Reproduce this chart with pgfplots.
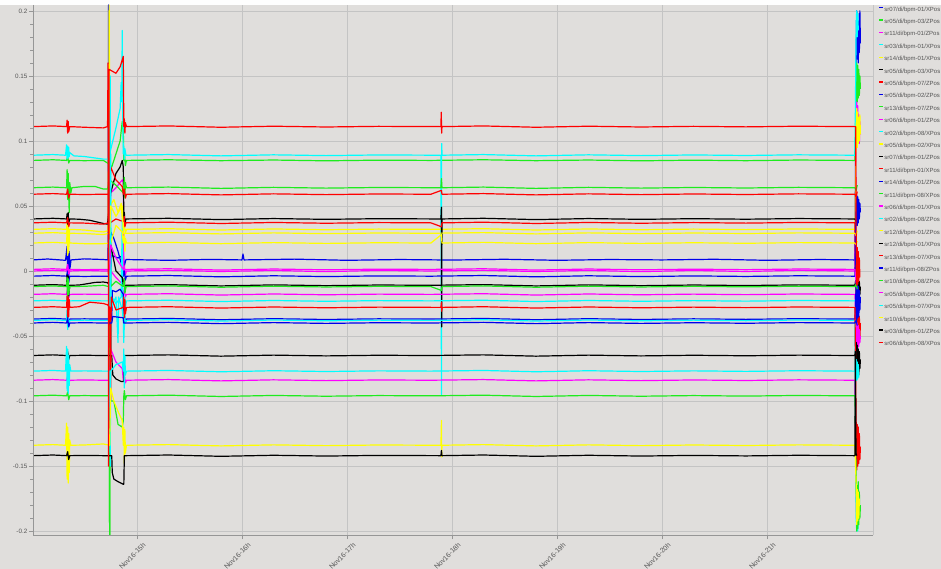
\documentclass[border=0pt]{standalone}
\usepackage{fontspec}
\setmainfont{Liberation Sans}
\usepackage{pgfplots}
\pgfplotsset{compat=1.18}
\definecolor{bg}{RGB}{224,222,220}
\definecolor{gridc}{RGB}{196,196,196}
\definecolor{axc}{RGB}{150,150,150}
\definecolor{labc}{RGB}{85,85,85}
\definecolor{bpmblue}{RGB}{0,0,235}
\definecolor{bpmgreen}{RGB}{30,235,30}
\definecolor{bpmmagenta}{RGB}{255,0,255}
\definecolor{bpmcyan}{RGB}{0,255,255}
\definecolor{bpmyellow}{RGB}{255,255,0}
\definecolor{bpmblack}{RGB}{0,0,0}
\definecolor{bpmred}{RGB}{255,0,0}
\pgfplotscreateplotcyclelist{bpm}{{color=bpmblue},{color=bpmgreen},{color=bpmmagenta},{color=bpmcyan},{color=bpmyellow},{color=bpmblack},{color=bpmred}}
\begin{document}
\begin{tikzpicture}
\fill[bg] (-33bp,-34bp) rectangle (908bp,535bp);
\fill[white!97!bg] (-33bp,530bp) rectangle (908bp,535bp);
\useasboundingbox (-33bp,-34bp) rectangle (908bp,535bp);
\begin{axis}[name=ax, at={(0,0)}, anchor=south west,
  scale only axis, width=840bp, height=530bp,
  xmin=14.01, xmax=22.01, ymin=-0.203, ymax=0.2045,
  enlargelimits=false,
  axis line style={draw=none},
  xtick={15,16,17,18,19,20,21},
  xticklabels={Nov16-15h,Nov16-16h,Nov16-17h,Nov16-18h,Nov16-19h,Nov16-20h,Nov16-21h},
  ytick={-0.2,-0.15,-0.1,-0.05,0,0.05,0.1,0.15,0.2},
  yticklabels={-0.2,-0.15,-0.1,-0.05,0,0.05,0.1,0.15,0.2},
  minor y tick num=4,
  grid=major, major grid style={draw=gridc, line width=0.6bp},
  tick align=outside, tick pos=left,
  major tick length=4bp, minor tick length=2.5bp,
  tick style={draw=axc, line width=0.6bp},
  /pgf/number format/assume math mode=true,
  yticklabel style={font=\fontsize{6.3}{7}\selectfont, text=labc, inner sep=1.5bp},
  xticklabel style={font=\fontsize{7}{8}\selectfont, text=labc, rotate=45, anchor=north east, inner sep=1bp, xshift=3bp, yshift=-5bp},
  cycle list name=bpm,
  every axis plot/.append style={line width=1.2bp, line join=round, mark=none},
  legend cell align=left,
  legend image code/.code={\draw[#1, line width=1.1bp] (0bp,2bp) -- (4bp,2bp);},
  legend style={at={(axis description cs:1.007,0.997)}, anchor=north west, draw=none, fill=none,
    inner sep=0pt, outer sep=0pt, row sep=6.4bp, font=\fontsize{6}{6.5}\selectfont, text=labc,
    nodes={inner sep=0.5bp, text height=4bp, text depth=1bp}},
]
% S1 blue
\addplot coordinates {(14.01,0.0085)(14.15,0.0092)(14.32,0.0082)(14.335,0.019)(14.34,-0.006)(14.345,0.021)(14.35,-0.009)(14.355,0.015)(14.362,0.002)(14.372,0.0085)(14.5,0.0093)(14.68,0.0088)(14.725,0.0085)(14.73,0.2045)(14.74,-0.03)(14.755,0.012)(14.82,0.01)(14.87,0.012)(14.88,0.004)(14.895,0.0088)(15.3,0.0082)(15.7,0.0089)(16.0,0.0085)(16.01,0.013)(16.02,0.0085)(16.5,0.0091)(17.0,0.0082)(17.5,0.0088)(18.0,0.0084)(18.5,0.009)(19.0,0.0082)(19.5,0.0088)(20.0,0.0085)(20.5,0.009)(21.0,0.0082)(21.5,0.0088)(21.838,0.0085)(21.85,0.17)(21.855,0.2)(21.86,0.163)(21.865,0.198)(21.87,0.16)(21.875,0.192)(21.88,0.168)(21.885,0.2)(21.89,0.175)};
% S2 green
\addplot coordinates {(14.01,0.085)(14.2,0.0855)(14.33,0.085)(14.34,0.088)(14.35,0.083)(14.36,0.085)(14.5,0.0848)(14.68,0.085)(14.72,0.083)(14.76,0.08)(14.8,0.09)(14.84,0.1)(14.86,0.115)(14.87,0.108)(14.875,0.085)(14.88,0.091)(14.89,0.081)(14.9,0.085)(15.3,0.0855)(15.8,0.0848)(16.3,0.0853)(16.8,0.0847)(17.3,0.0852)(17.8,0.085)(18.3,0.0855)(18.8,0.0848)(19.3,0.0853)(19.8,0.0847)(20.3,0.0852)(20.8,0.0848)(21.3,0.0853)(21.838,0.085)(21.85,0.14)(21.855,0.16)(21.86,0.13)(21.865,0.158)(21.87,0.133)(21.875,0.155)(21.88,0.135)(21.885,0.15)(21.89,0.14)};
% S3 magenta
\addplot coordinates {(14.01,0.0)(14.2,0.0005)(14.33,0.0)(14.34,0.004)(14.35,-0.003)(14.36,0.0)(14.5,0.0004)(14.68,0.0)(14.74,0.0)(14.75,0.06)(14.8,0.064)(14.86,0.07)(14.87,0.068)(14.875,0.0)(14.88,0.004)(14.89,-0.003)(14.9,0.0)(15.3,0.0005)(15.8,-0.0004)(16.3,0.0004)(16.8,-0.0005)(17.3,0.0004)(17.8,0.0)(18.3,0.0005)(18.8,-0.0004)(19.3,0.0004)(19.8,-0.0005)(20.3,0.0004)(20.8,-0.0004)(21.3,0.0005)(21.838,0.0)(21.85,0.11)(21.855,0.13)(21.86,0.1)(21.865,0.127)(21.87,0.103)(21.875,0.12)(21.88,0.098)(21.885,0.115)(21.89,0.105)};
% S4 cyan
\addplot coordinates {(14.01,0.089)(14.2,0.0895)(14.32,0.089)(14.33,0.097)(14.335,0.086)(14.34,0.096)(14.345,0.087)(14.35,0.095)(14.355,0.088)(14.36,0.091)(14.4,0.0885)(14.5,0.088)(14.68,0.086)(14.72,0.086)(14.74,0.09)(14.8,0.11)(14.84,0.125)(14.85,0.145)(14.855,0.13)(14.86,0.185)(14.865,0.12)(14.87,0.09)(14.875,0.096)(14.88,0.086)(14.885,0.094)(14.895,0.089)(15.3,0.0895)(15.8,0.0885)(16.3,0.0893)(16.8,0.0887)(17.3,0.0892)(17.89,0.089)(17.895,0.089)(17.9,-0.095)(17.902,0.098)(17.906,0.089)(18.3,0.0895)(18.8,0.0885)(19.3,0.0893)(19.8,0.0887)(20.3,0.0892)(20.8,0.0888)(21.3,0.0893)(21.838,0.089)(21.85,0.19)(21.855,0.2)(21.86,0.18)(21.865,0.198)(21.87,0.185)};
% S5 yellow
\addplot coordinates {(14.01,0.032)(14.2,0.0325)(14.33,0.032)(14.335,0.038)(14.34,0.026)(14.345,0.037)(14.35,0.027)(14.36,0.032)(14.5,0.0315)(14.68,0.03)(14.725,0.031)(14.735,0.2045)(14.745,0.05)(14.78,0.055)(14.82,0.045)(14.85,0.052)(14.86,0.04)(14.865,0.048)(14.875,0.032)(14.88,0.036)(14.89,0.029)(14.9,0.032)(15.3,0.0325)(15.8,0.0315)(16.3,0.0323)(16.8,0.0317)(17.3,0.0322)(17.8,0.032)(18.3,0.0325)(18.8,0.0315)(19.3,0.0323)(19.8,0.0317)(20.3,0.0322)(20.8,0.0318)(21.3,0.0323)(21.838,0.032)(21.85,0.11)(21.855,0.125)(21.86,0.095)(21.865,0.122)(21.87,0.098)(21.875,0.118)(21.88,0.1)(21.885,0.12)(21.89,0.105)};
% S6 black
\addplot coordinates {(14.01,0.040)(14.2,0.0405)(14.33,0.040)(14.335,0.044)(14.34,0.036)(14.345,0.045)(14.35,0.037)(14.36,0.04)(14.45,0.0398)(14.55,0.039)(14.68,0.0365)(14.72,0.036)(14.75,0.06)(14.8,0.075)(14.84,0.08)(14.86,0.085)(14.87,0.08)(14.875,0.04)(14.88,0.045)(14.885,0.036)(14.895,0.04)(15.3,0.0405)(15.8,0.0395)(16.3,0.0403)(16.8,0.0397)(17.3,0.0402)(17.895,0.04)(17.9,0.049)(17.902,-0.043)(17.905,0.04)(18.3,0.0405)(18.8,0.0395)(19.3,0.0403)(19.8,0.0397)(20.3,0.0402)(20.8,0.0398)(21.3,0.0403)(21.838,0.040)(21.85,0.038)(21.86,0.042)(21.87,0.039)};
% S7 red
\addplot coordinates {(14.01,0.037)(14.2,0.0375)(14.33,0.037)(14.34,0.041)(14.35,0.034)(14.36,0.037)(14.5,0.0368)(14.68,0.036)(14.728,0.037)(14.732,0.1)(14.738,0.01)(14.745,0.037)(14.8,0.04)(14.87,0.038)(14.88,0.042)(14.885,0.034)(14.895,0.037)(15.3,0.0375)(15.8,0.0365)(16.3,0.0373)(16.8,0.0367)(17.3,0.0372)(17.8,0.037)(17.9,0.034)(17.905,0.037)(18.3,0.0375)(18.8,0.0365)(19.3,0.0373)(19.8,0.0367)(20.3,0.0372)(20.8,0.0368)(21.3,0.0373)(21.838,0.037)(21.85,-0.03)(21.855,-0.055)(21.86,-0.026)(21.865,-0.057)(21.87,-0.03)(21.875,-0.05)(21.88,-0.035)(21.885,-0.052)(21.89,-0.04)};
% S8 blue
\addplot coordinates {(14.01,-0.004)(14.2,-0.0035)(14.33,-0.004)(14.34,0.0)(14.35,-0.008)(14.36,-0.004)(14.5,-0.0042)(14.68,-0.004)(14.74,-0.004)(14.75,0.03)(14.78,0.025)(14.82,0.015)(14.86,0.003)(14.87,-0.004)(14.88,0.0)(14.89,-0.007)(14.9,-0.004)(15.3,-0.0035)(15.8,-0.0045)(16.3,-0.0037)(16.8,-0.0043)(17.3,-0.0038)(17.8,-0.004)(18.3,-0.0035)(18.8,-0.0045)(19.3,-0.0037)(19.8,-0.0043)(20.3,-0.0038)(20.8,-0.0042)(21.3,-0.0037)(21.838,-0.004)(21.85,0.05)(21.855,0.058)(21.86,0.035)(21.865,0.057)(21.87,0.037)(21.875,0.055)(21.88,0.04)(21.885,0.052)(21.89,0.045)};
% S9 green
\addplot coordinates {(14.01,0.064)(14.2,0.0645)(14.33,0.064)(14.335,0.078)(14.34,0.055)(14.345,0.075)(14.35,0.058)(14.355,0.045)(14.36,0.068)(14.37,0.06)(14.38,0.064)(14.5,0.065)(14.6,0.065)(14.68,0.063)(14.72,0.063)(14.74,0.07)(14.8,0.066)(14.87,0.06)(14.88,0.072)(14.885,0.056)(14.89,0.068)(14.9,0.064)(15.3,0.0645)(15.8,0.0635)(16.3,0.0643)(16.8,0.0637)(17.3,0.0642)(17.895,0.064)(17.9,0.071)(17.905,0.064)(18.3,0.0645)(18.8,0.0635)(19.3,0.0643)(19.8,0.0637)(20.3,0.0642)(20.8,0.0638)(21.3,0.0643)(21.838,0.064)(21.85,0.062)(21.86,0.066)};
% S10 magenta
\addplot coordinates {(14.01,-0.018)(14.2,-0.0175)(14.33,-0.018)(14.34,-0.014)(14.35,-0.021)(14.36,-0.018)(14.5,-0.0178)(14.68,-0.018)(14.74,-0.018)(14.75,0.0)(14.8,-0.005)(14.86,-0.01)(14.87,-0.018)(14.88,-0.015)(14.89,-0.02)(14.9,-0.018)(15.3,-0.0175)(15.8,-0.0185)(16.3,-0.0177)(16.8,-0.0183)(17.3,-0.0178)(17.8,-0.018)(18.3,-0.0175)(18.8,-0.0185)(19.3,-0.0177)(19.8,-0.0183)(20.3,-0.0178)(20.8,-0.0182)(21.3,-0.0177)(21.838,-0.018)(21.85,-0.045)(21.855,-0.06)(21.86,-0.04)(21.865,-0.061)(21.87,-0.042)(21.875,-0.058)(21.88,-0.045)(21.885,-0.055)(21.89,-0.05)};
% S11 cyan
\addplot coordinates {(14.01,-0.023)(14.2,-0.0225)(14.33,-0.023)(14.34,-0.018)(14.35,-0.027)(14.36,-0.023)(14.5,-0.0228)(14.68,-0.023)(14.74,-0.023)(14.75,0.09)(14.755,-0.06)(14.76,-0.02)(14.8,-0.025)(14.85,-0.02)(14.86,0.04)(14.865,-0.03)(14.88,-0.045)(14.885,-0.02)(14.89,-0.028)(14.9,-0.023)(15.3,-0.0225)(15.8,-0.0235)(16.3,-0.0227)(16.8,-0.0233)(17.3,-0.0228)(17.8,-0.023)(18.3,-0.0225)(18.8,-0.0235)(19.3,-0.0227)(19.8,-0.0233)(20.3,-0.0228)(20.8,-0.0232)(21.3,-0.0227)(21.838,-0.023)(21.85,-0.02)(21.86,-0.026)};
% S12 yellow
\addplot coordinates {(14.01,0.0215)(14.2,0.022)(14.33,0.0215)(14.335,0.03)(14.34,0.012)(14.345,0.028)(14.35,0.014)(14.355,0.026)(14.36,0.0215)(14.5,0.021)(14.68,0.021)(14.75,0.0215)(14.8,0.035)(14.86,0.03)(14.87,0.0215)(14.88,0.028)(14.885,0.015)(14.89,0.025)(14.9,0.0215)(15.3,0.022)(15.8,0.021)(16.3,0.0218)(16.8,0.0212)(17.3,0.0217)(17.8,0.0215)(17.9,0.028)(17.905,0.0215)(18.3,0.022)(18.8,0.021)(19.3,0.0218)(19.8,0.0212)(20.3,0.0217)(20.8,0.0213)(21.3,0.0218)(21.838,0.0215)(21.85,0.02)(21.86,0.023)};
% S13 black
\addplot coordinates {(14.01,-0.011)(14.2,-0.0105)(14.33,-0.011)(14.335,-0.003)(14.34,-0.02)(14.345,-0.004)(14.35,-0.019)(14.36,-0.011)(14.45,-0.0108)(14.55,-0.0095)(14.6,-0.0088)(14.68,-0.0085)(14.72,-0.009)(14.74,-0.011)(14.75,0.02)(14.8,0.0)(14.86,-0.005)(14.87,-0.011)(14.88,-0.006)(14.885,-0.016)(14.895,-0.011)(15.3,-0.0105)(15.8,-0.0115)(16.3,-0.0107)(16.8,-0.0113)(17.3,-0.0108)(17.8,-0.011)(18.3,-0.0105)(18.8,-0.0115)(19.3,-0.0107)(19.8,-0.0113)(20.3,-0.0108)(20.8,-0.0112)(21.3,-0.0107)(21.838,-0.011)(21.85,-0.005)(21.855,-0.022)(21.86,-0.003)(21.865,-0.02)(21.87,-0.006)(21.875,-0.022)(21.88,-0.008)(21.885,-0.018)(21.89,-0.012)};
% S14 red
\addplot coordinates {(14.01,0.059)(14.2,0.0595)(14.33,0.059)(14.34,0.063)(14.35,0.056)(14.36,0.059)(14.5,0.0588)(14.68,0.059)(14.74,0.059)(14.75,0.08)(14.8,0.07)(14.86,0.065)(14.87,0.059)(14.88,0.063)(14.89,0.056)(14.9,0.059)(15.3,0.0595)(15.8,0.0585)(16.3,0.0593)(16.8,0.0587)(17.3,0.0592)(17.8,0.059)(17.9,0.062)(17.905,0.059)(18.3,0.0595)(18.8,0.0585)(19.3,0.0593)(19.8,0.0587)(20.3,0.0592)(20.8,0.0588)(21.3,0.0593)(21.838,0.059)(21.85,0.057)(21.86,0.061)};
% S15 blue
\addplot coordinates {(14.01,-0.037)(14.2,-0.0365)(14.33,-0.037)(14.34,-0.033)(14.35,-0.04)(14.36,-0.037)(14.5,-0.0368)(14.68,-0.037)(14.76,-0.037)(14.765,-0.015)(14.8,-0.016)(14.84,-0.014)(14.87,-0.018)(14.875,-0.037)(14.88,-0.033)(14.89,-0.039)(14.9,-0.037)(15.3,-0.0365)(15.8,-0.0375)(16.3,-0.0367)(16.8,-0.0373)(17.3,-0.0368)(17.8,-0.037)(18.3,-0.0365)(18.8,-0.0375)(19.3,-0.0367)(19.8,-0.0373)(20.3,-0.0368)(20.8,-0.0372)(21.3,-0.0367)(21.838,-0.037)(21.85,-0.01)(21.855,-0.038)(21.86,-0.007)(21.865,-0.036)(21.87,-0.012)(21.875,-0.035)(21.88,-0.015)(21.885,-0.03)(21.89,-0.02)};
% S16 green
\addplot coordinates {(14.01,-0.012)(14.2,-0.0115)(14.33,-0.012)(14.335,-0.005)(14.34,-0.02)(14.345,-0.006)(14.35,-0.018)(14.36,-0.012)(14.5,-0.0118)(14.68,-0.011)(14.73,-0.012)(14.74,-0.203)(14.745,0.05)(14.75,-0.012)(14.8,-0.008)(14.87,-0.012)(14.88,-0.006)(14.885,-0.017)(14.895,-0.012)(15.3,-0.0115)(15.8,-0.0125)(16.3,-0.0117)(16.8,-0.0123)(17.3,-0.0118)(17.8,-0.012)(17.9,-0.015)(17.905,-0.012)(18.3,-0.0115)(18.8,-0.0125)(19.3,-0.0117)(19.8,-0.0123)(20.3,-0.0118)(20.8,-0.0122)(21.3,-0.0117)(21.838,-0.012)(21.85,-0.01)(21.86,-0.014)};
% S17 magenta
\addplot coordinates {(14.01,-0.084)(14.2,-0.0835)(14.33,-0.084)(14.34,-0.081)(14.35,-0.087)(14.36,-0.084)(14.5,-0.0838)(14.68,-0.084)(14.74,-0.084)(14.75,-0.06)(14.8,-0.07)(14.86,-0.075)(14.87,-0.084)(14.88,-0.08)(14.89,-0.086)(14.9,-0.084)(15.3,-0.0835)(15.8,-0.0845)(16.3,-0.0837)(16.8,-0.0843)(17.3,-0.0838)(17.8,-0.084)(18.3,-0.0835)(18.8,-0.0845)(19.3,-0.0837)(19.8,-0.0843)(20.3,-0.0838)(20.8,-0.0842)(21.3,-0.0837)(21.838,-0.084)(21.85,-0.17)(21.855,-0.19)(21.86,-0.168)(21.865,-0.188)(21.87,-0.172)(21.875,-0.185)(21.88,-0.175)};
% S18 cyan
\addplot coordinates {(14.01,-0.038)(14.2,-0.0375)(14.33,-0.038)(14.335,-0.03)(14.34,-0.045)(14.345,-0.032)(14.35,-0.043)(14.36,-0.038)(14.5,-0.0378)(14.68,-0.038)(14.74,-0.038)(14.745,0.15)(14.75,-0.03)(14.77,-0.025)(14.8,-0.02)(14.82,-0.055)(14.825,-0.02)(14.86,-0.03)(14.87,-0.038)(14.875,-0.055)(14.88,-0.03)(14.89,-0.04)(14.9,-0.038)(15.3,-0.0375)(15.8,-0.0385)(16.3,-0.0377)(16.8,-0.0383)(17.3,-0.0378)(17.8,-0.038)(18.3,-0.0375)(18.8,-0.0385)(19.3,-0.0377)(19.8,-0.0383)(20.3,-0.0378)(20.8,-0.0382)(21.3,-0.0377)(21.838,-0.038)(21.85,-0.19)(21.855,-0.2)(21.86,-0.188)(21.865,-0.2)(21.87,-0.192)};
% S19 yellow
\addplot coordinates {(14.01,0.029)(14.2,0.0295)(14.33,0.029)(14.34,0.034)(14.35,0.024)(14.36,0.029)(14.5,0.0288)(14.68,0.028)(14.74,0.029)(14.75,0.05)(14.8,0.042)(14.86,0.05)(14.87,0.029)(14.9,0.029)(15.3,0.0295)(15.8,0.0285)(16.3,0.0293)(16.8,0.0287)(17.3,0.0292)(17.8,0.029)(18.3,0.0295)(18.8,0.0285)(19.3,0.0293)(19.8,0.0287)(20.3,0.0292)(20.8,0.0288)(21.3,0.0293)(21.838,0.029)(21.85,0.027)(21.86,0.031)};
% S20 black
\addplot coordinates {(14.01,-0.065)(14.2,-0.0645)(14.33,-0.065)(14.34,-0.062)(14.35,-0.068)(14.36,-0.065)(14.5,-0.0648)(14.68,-0.065)(14.76,-0.065)(14.77,-0.08)(14.8,-0.083)(14.85,-0.085)(14.875,-0.085)(14.88,-0.065)(14.9,-0.065)(15.3,-0.0645)(15.8,-0.0655)(16.3,-0.0647)(16.8,-0.0653)(17.3,-0.0648)(17.8,-0.065)(18.3,-0.0645)(18.8,-0.0655)(19.3,-0.0647)(19.8,-0.0653)(20.3,-0.0648)(20.8,-0.0652)(21.3,-0.0647)(21.838,-0.065)(21.85,-0.055)(21.855,-0.08)(21.86,-0.057)(21.865,-0.078)(21.87,-0.06)(21.875,-0.08)(21.88,-0.062)(21.885,-0.075)(21.89,-0.068)};
% S21 red
\addplot coordinates {(14.01,-0.028)(14.2,-0.0275)(14.33,-0.028)(14.335,-0.019)(14.34,-0.036)(14.345,-0.02)(14.35,-0.035)(14.355,-0.022)(14.36,-0.028)(14.45,-0.0275)(14.55,-0.024)(14.68,-0.025)(14.72,-0.026)(14.74,-0.028)(14.75,-0.1)(14.755,-0.02)(14.8,-0.03)(14.87,-0.028)(14.875,-0.02)(14.88,-0.036)(14.885,-0.022)(14.89,-0.033)(14.9,-0.028)(15.3,-0.0275)(15.8,-0.0285)(16.3,-0.0277)(16.8,-0.0283)(17.3,-0.0278)(17.895,-0.028)(17.9,-0.024)(17.903,-0.031)(17.906,-0.028)(18.3,-0.0275)(18.8,-0.0285)(19.3,-0.0277)(19.8,-0.0283)(20.3,-0.0278)(20.8,-0.0282)(21.3,-0.0277)(21.838,-0.028)(21.85,-0.12)(21.855,-0.153)(21.86,-0.118)(21.865,-0.15)(21.87,-0.12)(21.875,-0.148)(21.88,-0.125)(21.885,-0.145)(21.89,-0.135)};
% S22 blue
\addplot coordinates {(14.01,-0.040)(14.2,-0.0395)(14.33,-0.04)(14.34,-0.036)(14.35,-0.043)(14.36,-0.04)(14.5,-0.0398)(14.68,-0.04)(14.76,-0.04)(14.77,-0.035)(14.87,-0.036)(14.875,-0.04)(14.9,-0.04)(15.3,-0.0395)(15.8,-0.0405)(16.3,-0.0397)(16.8,-0.0403)(17.3,-0.0398)(17.8,-0.04)(18.3,-0.0395)(18.8,-0.0405)(19.3,-0.0397)(19.8,-0.0403)(20.3,-0.0398)(20.8,-0.0402)(21.3,-0.0397)(21.838,-0.04)(21.85,-0.038)(21.86,-0.042)};
% S23 green
\addplot coordinates {(14.01,-0.096)(14.2,-0.0955)(14.33,-0.096)(14.34,-0.093)(14.35,-0.099)(14.36,-0.096)(14.5,-0.0958)(14.68,-0.096)(14.735,-0.096)(14.74,-0.203)(14.745,-0.1)(14.78,-0.1)(14.82,-0.118)(14.86,-0.12)(14.87,-0.115)(14.875,-0.096)(14.88,-0.092)(14.89,-0.099)(14.9,-0.096)(15.3,-0.0955)(15.8,-0.0965)(16.3,-0.0957)(16.8,-0.0963)(17.3,-0.0958)(17.8,-0.096)(18.3,-0.0955)(18.8,-0.0965)(19.3,-0.0957)(19.8,-0.0963)(20.3,-0.0958)(20.8,-0.0962)(21.3,-0.0957)(21.838,-0.096)(21.85,-0.16)(21.855,-0.2)(21.86,-0.165)(21.865,-0.198)(21.87,-0.162)(21.875,-0.195)(21.88,-0.17)(21.885,-0.19)(21.89,-0.18)};
% S24 magenta
\addplot coordinates {(14.01,0.0012)(14.2,0.0017)(14.33,0.0012)(14.34,0.005)(14.35,-0.002)(14.36,0.0012)(14.5,0.001)(14.68,0.0012)(14.74,0.0012)(14.75,0.02)(14.8,0.01)(14.87,0.0012)(14.9,0.0012)(15.3,0.0017)(15.8,0.0007)(16.3,0.0015)(16.8,0.0009)(17.3,0.0014)(17.8,0.0012)(18.3,0.0017)(18.8,0.0007)(19.3,0.0015)(19.8,0.0009)(20.3,0.0014)(20.8,0.001)(21.3,0.0015)(21.838,0.0012)(21.85,-0.01)(21.86,0.005)};
% S25 cyan
\addplot coordinates {(14.01,-0.077)(14.2,-0.0765)(14.32,-0.077)(14.33,-0.058)(14.335,-0.092)(14.34,-0.06)(14.345,-0.094)(14.35,-0.065)(14.355,-0.088)(14.36,-0.072)(14.37,-0.077)(14.5,-0.0768)(14.68,-0.077)(14.74,-0.077)(14.745,-0.15)(14.75,-0.077)(14.8,-0.072)(14.86,-0.07)(14.87,-0.077)(14.875,-0.06)(14.88,-0.09)(14.885,-0.065)(14.89,-0.08)(14.9,-0.077)(15.3,-0.0765)(15.8,-0.0775)(16.3,-0.0767)(16.8,-0.0773)(17.3,-0.0768)(17.8,-0.077)(18.3,-0.0765)(18.8,-0.0775)(19.3,-0.0767)(19.8,-0.0773)(20.3,-0.0768)(20.8,-0.0772)(21.3,-0.0767)(21.838,-0.077)(21.85,-0.068)(21.855,-0.084)(21.86,-0.07)(21.865,-0.083)(21.87,-0.072)(21.875,-0.082)};
% S26 yellow
\addplot coordinates {(14.01,-0.134)(14.2,-0.1335)(14.32,-0.134)(14.33,-0.117)(14.335,-0.16)(14.34,-0.12)(14.345,-0.163)(14.35,-0.125)(14.355,-0.155)(14.36,-0.13)(14.37,-0.134)(14.5,-0.1338)(14.68,-0.133)(14.74,-0.134)(14.75,-0.09)(14.78,-0.1)(14.82,-0.108)(14.86,-0.115)(14.87,-0.134)(14.875,-0.12)(14.88,-0.148)(14.885,-0.122)(14.89,-0.14)(14.9,-0.134)(15.3,-0.1335)(15.8,-0.1345)(16.3,-0.1337)(16.8,-0.1343)(17.3,-0.1338)(17.895,-0.134)(17.9,-0.115)(17.902,-0.143)(17.905,-0.134)(18.3,-0.1335)(18.8,-0.1345)(19.3,-0.1337)(19.8,-0.1343)(20.3,-0.1338)(20.8,-0.1342)(21.3,-0.1337)(21.838,-0.134)(21.85,-0.165)(21.855,-0.195)(21.86,-0.168)(21.865,-0.192)(21.87,-0.17)(21.875,-0.19)(21.88,-0.175)};
% S27 black
\addplot coordinates {(14.01,-0.142)(14.2,-0.1415)(14.33,-0.142)(14.34,-0.139)(14.35,-0.145)(14.36,-0.142)(14.5,-0.1418)(14.68,-0.142)(14.76,-0.142)(14.765,-0.155)(14.78,-0.16)(14.82,-0.162)(14.87,-0.164)(14.875,-0.164)(14.88,-0.142)(14.9,-0.142)(15.3,-0.1415)(15.8,-0.1425)(16.3,-0.1417)(16.8,-0.1423)(17.3,-0.1418)(17.895,-0.142)(17.9,-0.138)(17.905,-0.142)(18.3,-0.1415)(18.8,-0.1425)(19.3,-0.1417)(19.8,-0.1423)(20.3,-0.1418)(20.8,-0.1422)(21.3,-0.1417)(21.838,-0.142)(21.842,-0.062)(21.848,-0.14)(21.855,-0.142)};
% S28 red
\addplot coordinates {(14.01,0.111)(14.2,0.1115)(14.33,0.111)(14.335,0.116)(14.34,0.106)(14.345,0.115)(14.35,0.107)(14.36,0.111)(14.5,0.1105)(14.68,0.11)(14.72,0.111)(14.725,0.16)(14.73,-0.15)(14.735,0.155)(14.8,0.152)(14.84,0.157)(14.87,0.165)(14.875,0.111)(14.88,0.117)(14.885,0.106)(14.89,0.114)(14.9,0.111)(15.3,0.1115)(15.8,0.1105)(16.3,0.1113)(16.8,0.1107)(17.3,0.1112)(17.895,0.111)(17.898,0.122)(17.902,0.106)(17.905,0.111)(18.3,0.1115)(18.8,0.1105)(19.3,0.1113)(19.8,0.1107)(20.3,0.1112)(20.8,0.1108)(21.3,0.1113)(21.838,0.111)(21.845,0.111)(21.85,0.02)(21.855,-0.011)(21.86,0.018)(21.865,-0.01)(21.87,0.015)(21.875,-0.008)(21.88,0.01)(21.885,-0.005)};
\legend{sr07/di/bpm-01/XPos,sr05/di/bpm-03/ZPos,sr11/di/bpm-01/ZPos,sr03/di/bpm-01/XPos,sr14/di/bpm-01/XPos,sr05/di/bpm-03/XPos,sr05/di/bpm-07/ZPos,sr05/di/bpm-02/ZPos,sr13/di/bpm-07/ZPos,sr06/di/bpm-01/ZPos,sr02/di/bpm-08/XPos,sr05/di/bpm-02/XPos,sr07/di/bpm-01/ZPos,sr11/di/bpm-01/XPos,sr14/di/bpm-01/ZPos,sr11/di/bpm-08/XPos,sr06/di/bpm-01/XPos,sr02/di/bpm-08/ZPos,sr12/di/bpm-01/ZPos,sr12/di/bpm-01/XPos,sr13/di/bpm-07/XPos,sr11/di/bpm-08/ZPos,sr10/di/bpm-08/ZPos,sr05/di/bpm-08/ZPos,sr05/di/bpm-07/XPos,sr10/di/bpm-08/XPos,sr03/di/bpm-01/ZPos,sr06/di/bpm-08/XPos}
\end{axis}
\draw[axc, line width=1bp] (ax.north west) -- (ax.south west) -- (ax.south east);
\draw[gridc, line width=0.8bp] (ax.south east) -- (ax.north east);
\end{tikzpicture}
\end{document}
